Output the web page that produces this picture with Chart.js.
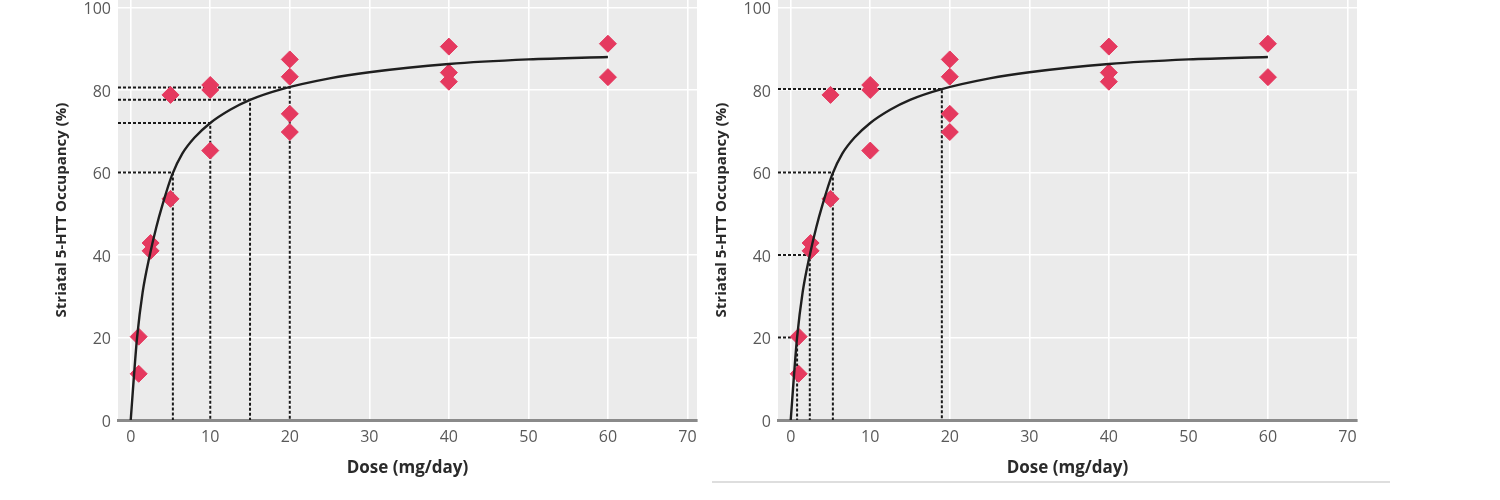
<!DOCTYPE html>
<html>
<head>
<meta charset="utf-8">
<script src="https://cdn.jsdelivr.net/npm/chart.js@4.4.1/dist/chart.umd.min.js"></script>
<style>
  body { margin: 0; background: #fff; width: 1500px; height: 500px; overflow: hidden; position: relative; }
  canvas { position: absolute; top: 0; }
  #left-chart { left: 0; }
  #right-chart { left: 700px; }
  .rule { position: absolute; left: 712px; top: 481px; width: 678px; border-top: 2px solid #dedede; }
</style>
</head>
<body>
<canvas id="left-chart" width="700" height="500"></canvas>
<canvas id="right-chart" width="660" height="500"></canvas>
<div class="rule"></div>
<script>
// --- Data ---
const doses = [1, 1, 2.5, 2.5, 5, 5, 10, 10, 10, 20, 20, 20, 20, 40, 40, 40, 60, 60];
const occupancy = [20.2, 11.2, 42.9, 41.0, 78.8, 53.6, 81.2, 80.0, 65.3, 87.4, 83.2, 74.2, 69.8, 90.5, 84.2, 82.0, 91.2, 83.1];

// fitted curve, sampled by eye along the drawn line
const fitDoses = [0, 0.4, 0.8, 1.5, 2.4, 3.2, 4, 5.2, 6.5, 8, 10, 12.5, 15, 19, 25, 30, 40, 50, 60];
const fitOccupancy = [0, 10.5, 20, 31, 40, 46.6, 52.2, 59.4, 64.6, 68.4, 72, 75.2, 77.6, 80.2, 82.8, 84.3, 86.3, 87.4, 88];

// dashed read-off lines
const leftGuideDoses = [5.3, 10, 15, 20];
const leftGuideOcc = [60, 72, 77.6, 80.6];
const rightGuideDoses = [0.8, 2.4, 5.3, 19];
const rightGuideOcc = [20, 40, 60, 80.2];

const xTicks = [0, 10, 20, 30, 40, 50, 60, 70];
const yTicks = [0, 20, 40, 60, 80, 100];

const X_MIN = -1.6, X_MAX = 71.2;
const Y_MIN = 0, Y_MAX = 101.8;

const FONT = "'Open Sans', 'Noto Sans', sans-serif";
const pointColor = '#e5395f';

// grey panel background, drawn before the grid
const panelBackground = {
    id: 'panelBackground',
    beforeDraw(chart) {
        const { ctx, chartArea } = chart;
        ctx.save();
        ctx.fillStyle = '#ebebeb';
        ctx.fillRect(chartArea.left, chartArea.top, chartArea.right - chartArea.left, chartArea.bottom - chartArea.top);
        ctx.restore();
    }
};

function guideDatasets(guideDoses, guideOcc) {
    return guideDoses.map((d, i) => ({
        data: [{ x: X_MIN, y: guideOcc[i] }, { x: d, y: guideOcc[i] }, { x: d, y: 0 }],
        showLine: true,
        borderColor: '#1a1a1a',
        borderWidth: 2,
        borderDash: [3, 2],
        pointRadius: 0,
        tension: 0,
        fill: false
    }));
}

function makePanel(canvasId, guideDoses, guideOcc, axisWidth, titleOffset) {
    const points = doses.map((d, i) => ({ x: d, y: occupancy[i] }));
    const curve = fitDoses.map((d, i) => ({ x: d, y: fitOccupancy[i] }));

    new Chart(document.getElementById(canvasId), {
        type: 'scatter',
        data: {
            datasets: [
                {
                    data: curve,
                    showLine: true,
                    borderColor: '#1f1f1f',
                    borderWidth: 2.4,
                    pointRadius: 0,
                    cubicInterpolationMode: 'monotone',
                    fill: false
                },
                {
                    data: points,
                    pointStyle: 'rectRot',
                    pointRadius: 8.5,
                    backgroundColor: pointColor,
                    borderColor: pointColor,
                    borderWidth: 1
                },
                ...guideDatasets(guideDoses, guideOcc)
            ]
        },
        options: {
            responsive: false,
            animation: false,
            layout: { autoPadding: false, padding: { left: 0, right: 3, top: 0, bottom: 0 } },
            plugins: {
                legend: { display: false },
                tooltip: { enabled: false }
            },
            scales: {
                x: {
                    type: 'linear',
                    min: X_MIN,
                    max: X_MAX,
                    afterBuildTicks: (scale) => { scale.ticks = xTicks.map(v => ({ value: v })); },
                    afterFit: (scale) => {
                        scale.height = 80;
                        scale.paddingLeft = 0; scale.paddingRight = 0;
                    },
                    grid: { color: '#ffffff', lineWidth: 1.6, drawTicks: false },
                    border: { display: true, color: '#8a8a8a', width: 3 },
                    ticks: {
                        padding: 8,
                        color: '#595959',
                        font: { family: FONT, size: 16 },
                        maxRotation: 0
                    },
                    title: {
                        display: true,
                        text: 'Dose (mg/day)',
                        color: '#2a2a2a',
                        font: { family: FONT, size: 17, weight: 'bold' },
                        padding: { top: 0, bottom: 22 }
                    }
                },
                y: {
                    type: 'linear',
                    min: Y_MIN,
                    max: Y_MAX,
                    afterBuildTicks: (scale) => { scale.ticks = yTicks.map(v => ({ value: v })); },
                    afterFit: (scale) => {
                        scale.width = axisWidth;
                        scale.paddingTop = 0; scale.paddingBottom = 0;
                    },
                    grid: { color: '#ffffff', lineWidth: 1.6, drawTicks: false },
                    border: { display: false },
                    ticks: {
                        padding: 7,
                        labelOffset: 2,
                        color: '#595959',
                        font: { family: FONT, size: 16 }
                    },
                    title: {
                        display: true,
                        text: 'Striatal 5-HTT Occupancy (%)',
                        color: '#2a2a2a',
                        font: { family: FONT, size: 15, weight: 'bold' },
                        padding: { top: titleOffset, bottom: 0 }
                    }
                }
            }
        },
        plugins: [panelBackground]
    });
}

document.addEventListener('DOMContentLoaded', () => {
    makePanel('left-chart', leftGuideDoses, leftGuideOcc, 118, 53);
    makePanel('right-chart', rightGuideDoses, rightGuideOcc, 78, 13);
});
</script>
</body>
</html>
